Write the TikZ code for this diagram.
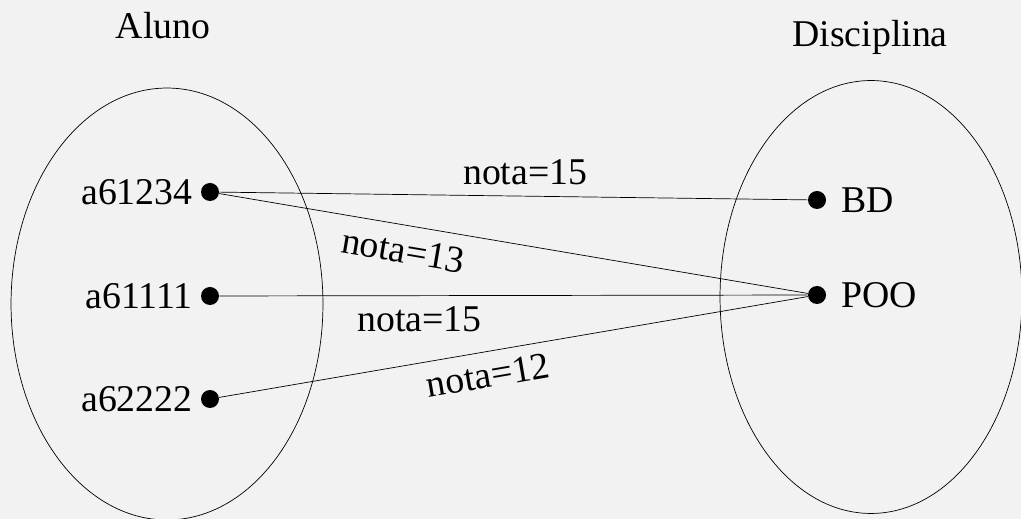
\documentclass[tikz,border=0pt]{standalone}
\usepackage{fontspec}
\setmainfont{Liberation Serif}
\usepackage{tikz}
\usepackage{xcolor}
\definecolor{bgcol}{HTML}{F2F2F2}

\tikzset{
  dot/.style={circle, fill=black, inner sep=0pt, minimum size=0.36cm},
  nota/.style={font=\fontsize{21.5}{26}\selectfont, inner sep=2pt}
}

\begin{document}
\begin{tikzpicture}[x=0.02cm, y=-0.02cm, font=\fontsize{21.5}{26}\selectfont]
\fill[bgcol] (0,0) rectangle (1021,519);
\useasboundingbox (0,0) rectangle (1021,519);
\draw (167,304) ellipse [x radius=3.12cm, y radius=4.32cm];
\draw (871,297) ellipse [x radius=3.02cm, y radius=4.33cm];
\node (aluno) at (163,26) {Aluno};
\node (disc) at (870,37) {Disciplina};
\node[dot] (a1) at (210,192) {};
\node[dot] (a2) at (210,296) {};
\node[dot] (a3) at (210,399) {};
\node[dot] (bd) at (817,200) {};
\node[dot] (poo) at (817,295) {};
\node[anchor=east] at ([xshift=-0.04cm]a1.west) (la1) {a61234};
\node[anchor=east] at ([xshift=-0.04cm]a2.west) (la2) {a61111};
\node[anchor=east] at ([xshift=-0.04cm]a3.west) (la3) {a62222};
\node[anchor=west] at ([xshift=0.18cm]bd.east) (lbd) {BD};
\node[anchor=west] at ([xshift=0.18cm]poo.east) (lpoo) {POO};
\draw (a1) -- (bd) node[nota, pos=0.52, above=0.14cm] {nota=15};
\draw (a1) -- (poo) node[nota, pos=0.32, below=0.18cm, sloped] {nota=13};
\draw (a2) -- (poo) node[nota, pos=0.34, below=0.14cm] {nota=15};
\draw (a3) -- (poo) node[nota, pos=0.45, below=0.14cm, sloped] {nota=12};
\end{tikzpicture}
\end{document}
